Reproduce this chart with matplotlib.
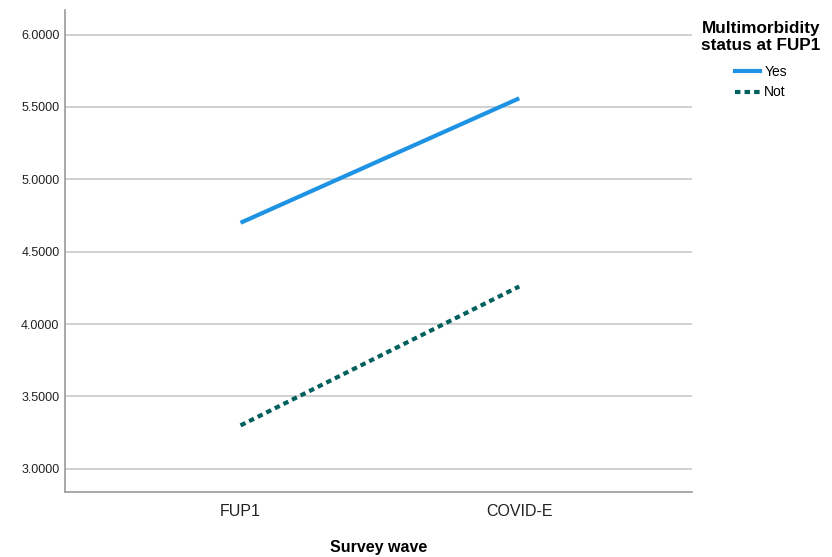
import matplotlib
matplotlib.use("Agg")
import matplotlib.pyplot as plt
from matplotlib.lines import Line2D

plt.rcParams['font.family'] = ['Liberation Sans', 'DejaVu Sans']

waves = ["FUP1", "COVID-E"]
yes_vals = [4.70, 5.56]
not_vals = [3.30, 4.26]
yticks = [3.0, 3.5, 4.0, 4.5, 5.0, 5.5, 6.0]

fig = plt.figure(figsize=(8.32, 5.57), dpi=100)
ax = fig.add_axes([65/832, 1-492/557, (692-65)/832, (492-10)/557])

x = list(range(len(waves)))
ax.plot(x, yes_vals, color="#1f93e3", lw=3, solid_capstyle="butt", label="Yes")
ax.plot(x, not_vals, color="#00605e", lw=3, linestyle=(0, (1.3, 1.0)), dash_capstyle="butt", label="Not")

ax.set_xlim(-0.63, 1.62)
ax.set_ylim(2.84, 6.17)
ax.set_yticks(yticks)
ax.set_yticklabels([f"{v:.4f}" for v in yticks], fontsize=9, color="#222222")
ax.set_xticks(x)
ax.set_xticklabels(waves, fontsize=11.5, color="#222222")
ax.tick_params(axis="both", length=0)
ax.tick_params(axis="y", pad=4)
ax.tick_params(axis="x", pad=9)
ax.grid(axis="y", color="#c8c8c8", lw=1.2)
ax.set_axisbelow(True)
for s in ["top", "right"]:
    ax.spines[s].set_visible(False)
for s in ["left", "bottom"]:
    ax.spines[s].set_color("#999999")
    ax.spines[s].set_linewidth(1.2)

ax.set_xlabel("Survey wave", fontsize=11.5, fontweight="bold", labelpad=15)

handles = [Line2D([], [], color="#1f93e3", lw=3),
           Line2D([], [], color="#00605e", lw=3, linestyle=(0, (1.3, 1.0)))]
leg = fig.legend(handles, ["Yes", "Not"], loc="upper center", bbox_to_anchor=(761/832, 1-9/557),
                 frameon=False, fontsize=10, handlelength=1.8, handletextpad=0.3,
                 labelspacing=0.45, title="Multimorbidity\nstatus at FUP1",
                 title_fontproperties={"weight": "bold", "size": 12.3},
                 alignment="center")
leg.get_title().set_multialignment("center")
leg.get_title().set_linespacing(1.1)
leg._legend_box.sep = 9

fig.savefig("out.png", dpi=100)
